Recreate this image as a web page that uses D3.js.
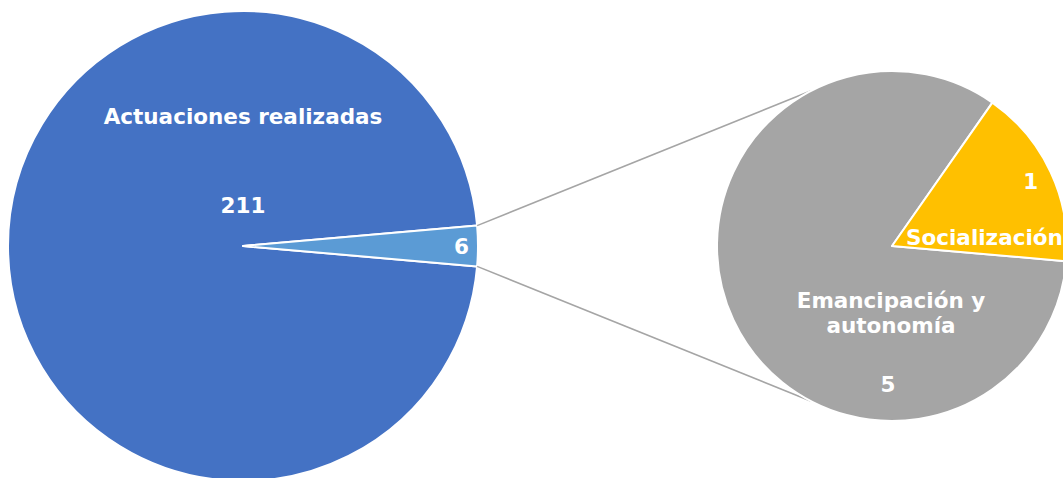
<!DOCTYPE html>
<html><head><meta charset="utf-8">
<script src="https://cdn.jsdelivr.net/npm/d3@7/dist/d3.min.js"></script>
<style>
html,body{margin:0;padding:0;background:#fff;overflow:hidden}
text{font-family:"DejaVu Sans",Verdana,sans-serif;font-weight:bold;fill:#fff}
</style></head>
<body><svg id="c" width="1063" height="478"></svg>
<script>
const mainCategories = ["Actuaciones realizadas", "Otras"];
const mainValues = [211, 6];
const subCategories = ["Emancipación y autonomía", "Socialización"];
const subValues = [5, 1];
const mainColors = ["#4472C4", "#5B9BD5"];
const subColors = ["#A5A5A5", "#FFC000"];

const svg = d3.select("#c");
const deg = Math.PI / 180;

// main pie
const mc = {x: 243, y: 246, r: 235};
const total = d3.sum(mainValues);
const smallAng = mainValues[1] / total * 2 * Math.PI;
const mainPie = d3.pie().sort(null).startAngle(Math.PI/2 + smallAng/2).endAngle(Math.PI/2 + smallAng/2 + 2*Math.PI);
const mainArcs = mainPie(mainValues);
const mainArc = d3.arc().innerRadius(0).outerRadius(mc.r);
const gm = svg.append("g").attr("transform", `translate(${mc.x},${mc.y})`);

// sub pie
const sc = {x: 892, y: 246, r: 175};
const subPie = d3.pie().sort(null).startAngle(95*deg).endAngle(95*deg + 2*Math.PI);
const subArcs = subPie(subValues);
const subArc = d3.arc().innerRadius(0).outerRadius(sc.r);

// connector lines
const sliceEdges = [mainArcs[1].startAngle, mainArcs[1].endAngle];
const subPts = [-27.5*deg, 207.5*deg];
sliceEdges.forEach((a, i) => {
  const x1 = mc.x + mc.r * Math.sin(a), y1 = mc.y - mc.r * Math.cos(a);
  const x2 = sc.x + sc.r * Math.sin(subPts[i]), y2 = sc.y - sc.r * Math.cos(subPts[i]);
  svg.append("line").attr("x1", x1).attr("y1", y1).attr("x2", x2).attr("y2", y2)
    .attr("stroke", "#A5A5A5").attr("stroke-width", 1.5);
});

gm.selectAll("path").data(mainArcs).join("path")
  .attr("d", mainArc).attr("fill", (d,i) => mainColors[i])
  .attr("stroke", "#fff").attr("stroke-width", 2).attr("stroke-linejoin", "round");

const gs = svg.append("g").attr("transform", `translate(${sc.x},${sc.y})`);
gs.selectAll("path").data(subArcs).join("path")
  .attr("d", subArc).attr("fill", (d,i) => subColors[i])
  .attr("stroke", "#fff").attr("stroke-width", 2).attr("stroke-linejoin", "round");

const fs = 21.5;
// main labels
gm.append("text").attr("x", 0).attr("y", -122).attr("text-anchor", "middle").attr("font-size", fs).text(mainCategories[0]);
gm.append("text").attr("x", 0).attr("y", -33).attr("text-anchor", "middle").attr("font-size", fs).text(mainValues[0]);
const c6 = d3.arc().innerRadius(mc.r*0.93).outerRadius(mc.r*0.93).centroid(mainArcs[1]);
gm.append("text").attr("x", c6[0]).attr("y", c6[1] + 8).attr("text-anchor", "middle").attr("font-size", fs).text(mainValues[1]);

// sub labels
const c1 = d3.arc().innerRadius(sc.r*0.875).outerRadius(sc.r*0.875).centroid(subArcs[1]);
gs.append("text").attr("x", c1[0]).attr("y", c1[1] + 8).attr("text-anchor", "middle").attr("font-size", fs).text(subValues[1]);
gs.append("text").attr("x", 14).attr("y", -1).attr("text-anchor", "start").attr("font-size", fs).text(subCategories[1]);
const lab = ["Emancipación y", "autonomía"];
gs.append("text").attr("x", -1).attr("y", 62).attr("text-anchor", "middle").attr("font-size", fs).text(lab[0]);
gs.append("text").attr("x", -1).attr("y", 87).attr("text-anchor", "middle").attr("font-size", fs).text(lab[1]);
gs.append("text").attr("x", -4).attr("y", 146).attr("text-anchor", "middle").attr("font-size", fs).text(subValues[0]);
</script></body></html>
